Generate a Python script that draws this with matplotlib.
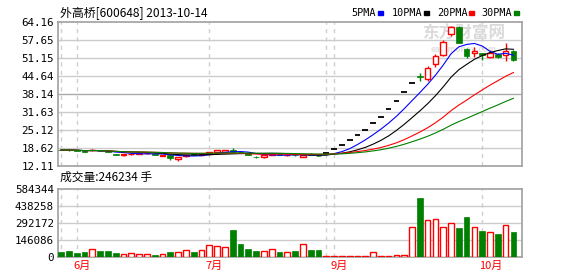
import matplotlib
matplotlib.use("Agg")
import matplotlib.pyplot as plt
import numpy as np
import pandas as pd

plt.rcParams['font.family'] = ['Noto Sans CJK SC', 'DejaVu Sans']

# daily bars, 2013-05-30 .. 2013-10-14 (suspended most of late July / August)
opens = [17.9, 17.9, 17.8, 17.5, 17.7, 17.6, 17.4, 16.4, 15.9, 16.2,
         16.4, 16.6, 16.3, 15.6, 15.8, 14.6, 15.5, 16.2, 16.0, 16.4,
         17.0, 17.1, 17.8, 16.9, 16.6, 15.4, 15.1, 15.9, 16.3, 15.8,
         16.1, 15.4, 16.2, 15.7, 16.6, 18.1, 19.6, 21.4, 23.1, 24.9,
         27.5, 29.6, 32.5, 35.4, 38.6, 42.1, 44.4, 43.3, 48.8, 52.0,
         59.8, 62.1, 54.3, 52.7, 52.7, 51.5, 52.6, 52.0, 53.6]
highs = [18.1, 18.0, 17.9, 17.6, 18.1, 17.7, 17.5, 16.5, 16.4, 16.6,
         16.8, 16.8, 16.4, 16.0, 15.9, 15.4, 16.0, 16.3, 16.6, 17.2,
         17.9, 17.8, 18.5, 17.1, 16.8, 15.5, 16.2, 16.4, 16.4, 16.2,
         16.2, 16.1, 16.6, 15.8, 16.6, 18.1, 19.6, 21.4, 23.1, 24.9,
         27.5, 29.6, 32.5, 35.4, 38.6, 42.1, 45.5, 48.3, 52.5, 57.4,
         62.6, 62.6, 54.5, 55.1, 53.0, 53.9, 52.8, 56.3, 53.8]
lows = [17.7, 17.6, 17.5, 17.0, 17.5, 17.3, 16.9, 15.8, 15.7, 16.1,
        16.3, 16.5, 15.9, 15.5, 14.2, 13.9, 15.4, 15.8, 15.9, 16.3,
        16.9, 17.0, 16.8, 16.6, 15.8, 15.0, 15.0, 15.8, 15.9, 15.7,
        15.7, 15.3, 15.8, 15.5, 16.6, 18.1, 19.6, 21.4, 23.1, 24.9,
        27.5, 29.6, 32.5, 35.4, 38.6, 42.1, 42.7, 42.7, 47.9, 51.8,
        59.0, 56.4, 51.1, 51.5, 50.2, 50.9, 51.0, 50.1, 49.9]
closes = [17.8, 17.7, 17.6, 17.1, 17.8, 17.4, 17.0, 15.9, 16.2, 16.4,
          16.7, 16.7, 16.0, 15.9, 15.0, 15.4, 15.9, 15.9, 16.4, 17.0,
          17.7, 17.7, 17.0, 16.7, 16.0, 15.1, 16.1, 16.3, 16.0, 16.1,
          15.8, 16.0, 16.1, 15.6, 16.6, 18.1, 19.6, 21.4, 23.1, 24.9,
          27.5, 29.6, 32.5, 35.4, 38.6, 42.1, 44.0, 47.5, 51.9, 57.0,
          62.4, 56.6, 51.8, 53.7, 52.3, 52.8, 51.3, 53.6, 50.3]
volumes = [43000, 52000, 35000, 43000, 66000, 52000, 52000, 35000, 23000, 32000,
           23000, 23000, 17000, 23000, 43000, 40000, 58000, 43000, 58000, 101000,
           92000, 83000, 233000, 112000, 69000, 52000, 49000, 66000, 43000, 40000,
           52000, 109000, 60000, 60000, 9000, 8000, 8000, 8000, 8000, 8000,
           40000, 8000, 8000, 17000, 17000, 256000, 509000, 320000, 328000, 256000,
           291000, 250000, 345000, 256000, 225000, 213000, 199000, 273000, 216000]

month_idx = [0, 2, 19, 34, 35, 54]
month_lbl = ['', '6月', '7月', '', '9月', '10月']

price_ticks = [12.11, 18.62, 25.12, 31.63, 38.14, 44.64, 51.15, 57.65, 64.16]
vol_ticks = [0, 146086, 292172, 438258, 584344]

ma_periods = [5, 10, 20, 30]
ma_colors = ['#0000ff', '#000000', '#ff0000', '#008000']

RED = '#ff0000'
GREEN = '#008000'
GRID = '#cccccc'
BORDER = '#a0a0a0'

fig = plt.figure(figsize=(5.78, 2.76), dpi=100)
W, H = 578.0, 276.0
axp = fig.add_axes([58 / W, 1 - 165.7 / H, 464 / W, 144 / H])
axv = fig.add_axes([58 / W, 1 - 257 / H, 464 / W, 67.7 / H])

n = len(closes)
x = np.arange(n)
xl = (-0.4, 59.1)
bw = 0.73

for ax in (axp, axv):
    ax.set_xlim(*xl)
    for s in ax.spines.values():
        s.set_color(BORDER)
        s.set_linewidth(1.2)
    ax.set_xticks([])
    ax.tick_params(axis='y', length=0, pad=3, labelsize=7.8)
    for m in month_idx:
        ax.axvline(m, color='#cfcfcf', lw=1, ls=(0, (3, 3)), zorder=0)

# price panel
axp.set_ylim(price_ticks[0], price_ticks[-1])
axp.set_yticks(price_ticks)
axp.set_yticklabels(['%.2f' % t for t in price_ticks], family='DejaVu Sans Mono')
for t in price_ticks[1:-1]:
    axp.axhline(t, color='#aaaaaa' if t == 38.14 else GRID, lw=1, zorder=0)

for i in x:
    o, h, l, c = opens[i], highs[i], lows[i], closes[i]
    if c == o:
        axp.hlines(c, i - bw / 2, i + bw / 2, color='black', lw=1.3, zorder=3)
        continue
    col = RED if c > o else GREEN
    axp.vlines(i, l, h, color=col, lw=1, zorder=2)
    lo, hi = min(o, c), max(o, c)
    if c > o:
        axp.bar(i, hi - lo, bw, bottom=lo, facecolor='white', edgecolor=col, lw=1, zorder=3)
    else:
        axp.bar(i, hi - lo, bw, bottom=lo, facecolor=col, edgecolor=col, lw=0.5, zorder=3)

cs = pd.Series(closes)
for p, col in zip(ma_periods, ma_colors):
    axp.plot(x, cs.rolling(p, min_periods=1).mean(), color=col, lw=0.8, zorder=4)

# watermark
axp.text(0.874, 0.915, '东方财富网', transform=axp.transAxes, ha='center', va='center',
         fontsize=12, color='#dadada', fontweight='bold', zorder=1)
axp.text(0.874, 0.805, 'eastmoney.com', transform=axp.transAxes, ha='center', va='center',
         fontsize=6, color='#e0e0e0', fontweight='bold', zorder=1)

# volume panel
axv.set_ylim(0, vol_ticks[-1])
axv.set_yticks(vol_ticks)
axv.set_yticklabels([str(t) for t in vol_ticks], family='DejaVu Sans Mono')
for t in vol_ticks[1:-1]:
    axv.axhline(t, color=GRID, lw=1, zorder=0)
for i in x:
    if closes[i] >= opens[i]:
        axv.bar(i, volumes[i], bw, facecolor='white', edgecolor=RED, lw=1, zorder=3)
    else:
        axv.bar(i, volumes[i], bw, facecolor=GREEN, edgecolor=GREEN, lw=0.5, zorder=3)

for m, lbl in zip(month_idx, month_lbl):
    if lbl:
        axv.text(m - 0.45, -0.06, lbl, transform=axv.get_xaxis_transform(),
                 ha='left', va='top', color=RED, fontsize=8)

# texts
fig.text(60 / W, 1 - 13 / H, '外高桥[600648] 2013-10-14', ha='left', va='center', fontsize=8.6)
fig.text(60 / W, 1 - 177 / H, '成交量:246234 手', ha='left', va='center', fontsize=8.5)

leg_x = [351.7, 391.7, 436.7, 481.7]
for k, (p, col) in enumerate(zip(ma_periods, ma_colors)):
    fig.text(leg_x[k] / W, 1 - 13 / H, '%dPMA' % p, ha='left', va='center',
             fontsize=7.3, family='DejaVu Sans Mono')
    mx = leg_x[k] + 26 + (6 if p >= 10 else 0)
    fig.patches.append(plt.Rectangle((mx / W, 1 - 14.5 / H), 5.5 / W, 3 / H,
                                     transform=fig.transFigure, color=col))

fig.savefig('out.png', dpi=100)
